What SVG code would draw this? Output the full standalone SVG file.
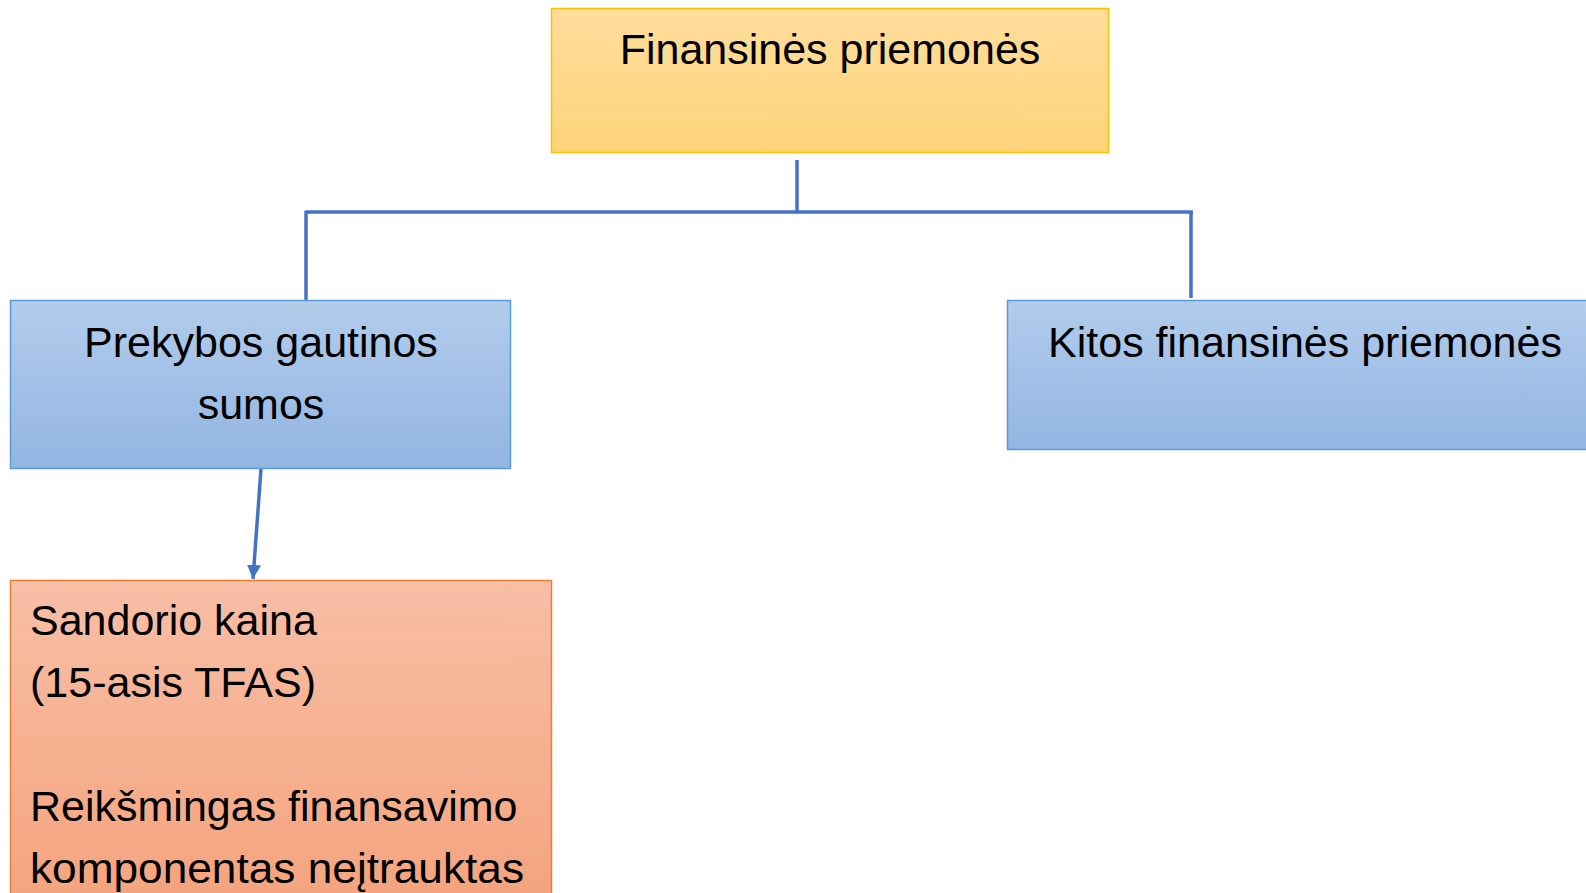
<svg xmlns="http://www.w3.org/2000/svg" width="1586" height="893" viewBox="0 0 1586 893">
<style>
.t{font-family:"Liberation Sans",Arial,sans-serif;font-size:43px;fill:#000}
.c{text-anchor:middle}
.conn{stroke:#4472C4;stroke-width:3.5;fill:none}
</style>
<defs>
<linearGradient id="gy" x1="0" y1="0" x2="0" y2="1"><stop offset="0" stop-color="#FFDD9C"/><stop offset="1" stop-color="#FED379"/></linearGradient>
<linearGradient id="gb" x1="0" y1="0" x2="0" y2="1"><stop offset="0" stop-color="#B2CCEB"/><stop offset="1" stop-color="#92B5E2"/></linearGradient>
<linearGradient id="go" x1="0" y1="0" x2="0" y2="1"><stop offset="0" stop-color="#F8BEA6"/><stop offset="1" stop-color="#F4A37C"/></linearGradient>
<marker id="ah" markerWidth="4" markerHeight="4" refX="4" refY="2" orient="auto" markerUnits="strokeWidth"><path d="M0,0 L4,2 L0,4 z" fill="#4472C4"/></marker>
</defs>
<rect width="1586" height="893" fill="#fff"/>
<g id="connectors">
<line class="conn" x1="797" y1="160" x2="797" y2="212"/>
<line class="conn" x1="305" y1="212" x2="1193" y2="212"/>
<line class="conn" x1="306" y1="211" x2="306" y2="300"/>
<line class="conn" x1="1191" y1="212" x2="1191" y2="298"/>
<line class="conn" x1="261" y1="469" x2="253" y2="579" marker-end="url(#ah)"/>
</g>
<g id="node-top">
<rect x="551.5" y="8.5" width="557" height="144" fill="url(#gy)" stroke="#FFC000" stroke-width="1.5"/>
<text class="t c" x="830" y="64">Finansinės priemonės</text>
</g>
<g id="node-trade">
<rect x="10.5" y="300.5" width="500" height="168" fill="url(#gb)" stroke="#5B9BD5" stroke-width="1.5"/>
<text class="t c" x="261" y="357">Prekybos gautinos</text>
<text class="t c" x="261" y="419">sumos</text>
</g>
<g id="node-other">
<rect x="1007.5" y="300.5" width="600" height="149" fill="url(#gb)" stroke="#5B9BD5" stroke-width="1.5"/>
<text class="t c" x="1305" y="357">Kitos finansinės priemonės</text>
</g>
<g id="node-price">
<rect x="10.5" y="580.5" width="541" height="330" fill="url(#go)" stroke="#ED7D31" stroke-width="1.5"/>
<text class="t" x="30" y="635">Sandorio kaina</text>
<text class="t" x="30" y="697">(15-asis TFAS)</text>
<text class="t" x="30" y="821">Reikšmingas finansavimo</text>
<text class="t" x="30" y="883" textLength="494" lengthAdjust="spacingAndGlyphs">komponentas neįtrauktas</text>
</g>
</svg>
